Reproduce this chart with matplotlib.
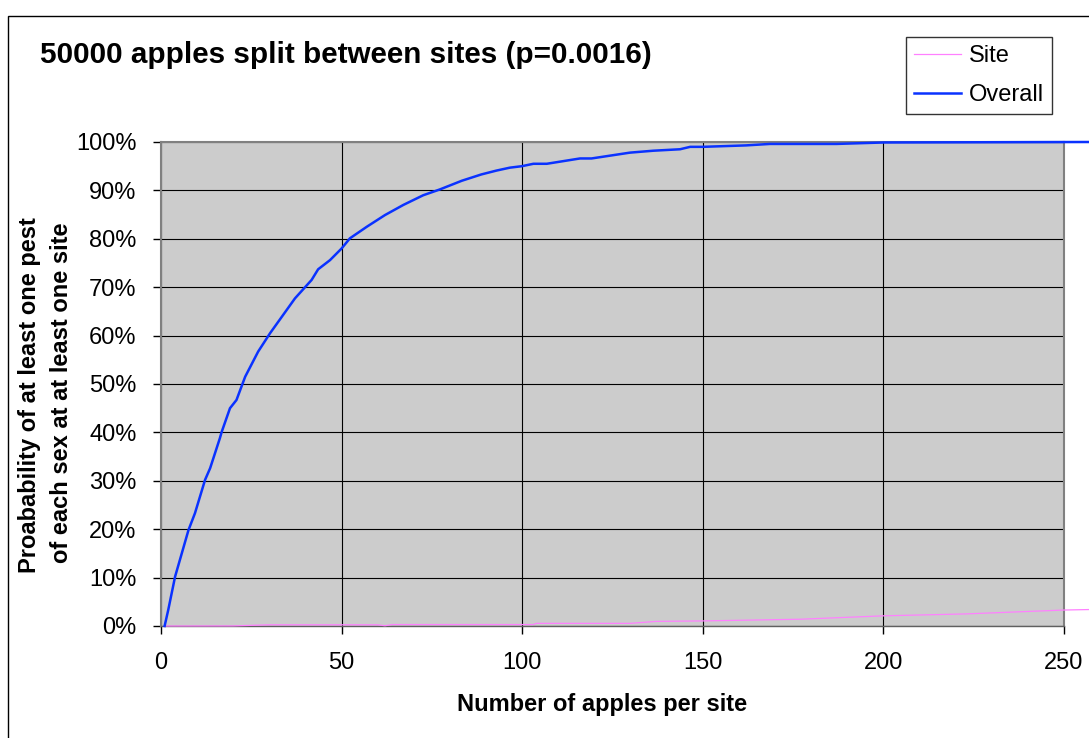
import matplotlib
matplotlib.use("Agg")
import matplotlib.pyplot as plt
from matplotlib.patches import Rectangle
from matplotlib.ticker import FuncFormatter

plt.rcParams['font.family'] = ['Liberation Sans', 'DejaVu Sans']

title = "50000 apples split between sites (p=0.0016)"
xlabel = "Number of apples per site"
ylabel_lines = ["Proabability of at least one pest", "of each sex at at least one site"]
series_names = ["Site", "Overall"]

overall_x = [1, 2.0, 3.9, 7.6, 9.4, 12.2, 13.6, 16.3, 16.8, 19.1, 20.9, 23.3, 26.9, 30.2,
             32.5, 37.1, 41.7, 43.5, 46.8, 50, 52.3, 57, 62, 67.1, 72.6, 77.2, 83.3,
             88.7, 92.9, 96.6, 99.9, 103.1, 106.8, 116, 119.2, 129.8, 136.3, 143.7,
             146.5, 150, 162, 168.6, 187, 200, 257]
overall_y = [0, 3.3, 10.2, 19.8, 23.3, 30.2, 32.6, 38.8, 40.1, 45.0, 46.7, 51.5, 56.7, 60.5,
             62.9, 67.7, 71.5, 73.7, 75.6, 78.0, 80.1, 82.5, 84.9, 87.0, 89.0, 90.2, 92.0,
             93.3, 94.1, 94.7, 95.0, 95.5, 95.5, 96.6, 96.6, 97.8, 98.2, 98.5,
             99.0, 99.0, 99.3, 99.6, 99.6, 99.9, 100]

site_x = [1, 20, 30, 50, 60, 62, 64, 100, 103, 104, 130, 137, 150, 177, 200, 223, 250, 257]
site_y = [0, 0.02, 0.25, 0.25, 0.25, 0.05, 0.3, 0.3, 0.3, 0.55, 0.55, 0.95, 1.05, 1.4, 2.1, 2.5, 3.3, 3.4]

xticks = [0, 50, 100, 150, 200, 250]
yticks = [0, 10, 20, 30, 40, 50, 60, 70, 80, 90, 100]

W, H = 1089, 738
fig = plt.figure(figsize=(W / 100, H / 100), dpi=100)
fig.patch.set_facecolor('white')

# outer chart frame
fig.patches.append(Rectangle((8 / W, -0.1), 1.2, (738 - 16) / H + 0.1, transform=fig.transFigure,
                             fill=False, edgecolor='black', linewidth=1.0, zorder=0))

ax = fig.add_axes([161 / W, 112 / H, 903 / W, 484 / H])
ax.set_facecolor('#CCCCCC')
ax.set_xlim(0, 250)
ax.set_ylim(0, 100)

ax.set_xticks(xticks)
ax.set_yticks(yticks)
ax.yaxis.set_major_formatter(FuncFormatter(lambda v, p: f"{int(v)}%"))
ax.tick_params(axis='both', direction='out', length=6, width=1, color='black',
               labelsize=17)
ax.tick_params(axis='y', pad=11.5)
ax.tick_params(axis='x', pad=13)
ax.grid(True, color='black', linewidth=0.8)
ax.set_axisbelow(True)

for side in ['left', 'right', 'top']:
    ax.spines[side].set_color('#808080')
    ax.spines[side].set_linewidth(1.5)
ax.spines['bottom'].set_color('#606060')
ax.spines['bottom'].set_linewidth(1.0)

ax.plot(site_x, site_y, color='#FF80FF', linewidth=0.9, clip_on=False, zorder=3, label=series_names[0])
ax.plot(overall_x, overall_y, color='#0A32FF', linewidth=1.8, clip_on=False, zorder=4, label=series_names[1])

leg = fig.legend(loc='upper left', bbox_to_anchor=(906 / W, (738 - 37) / H), fontsize=17,
                 frameon=True, fancybox=False, edgecolor='black', handlelength=2.0,
                 handletextpad=0.3, borderpad=0.35, labelspacing=0.7, borderaxespad=0)
leg.get_frame().set_linewidth(1.0)

fig.text(40 / W, (738 - 55) / H, title, fontsize=21.3, fontweight='bold', ha='left', va='center')
fig.text(602 / W, (738 - 705) / H, xlabel, fontsize=17, fontweight='bold', ha='center', va='center')
fig.text(30 / W, (738 - 395) / H, ylabel_lines[0], fontsize=17, fontweight='bold',
         rotation=90, ha='center', va='center')
fig.text(62 / W, (738 - 393) / H, ylabel_lines[1], fontsize=17, fontweight='bold',
         rotation=90, ha='center', va='center')

fig.savefig('out.png', dpi=100, facecolor='white')
